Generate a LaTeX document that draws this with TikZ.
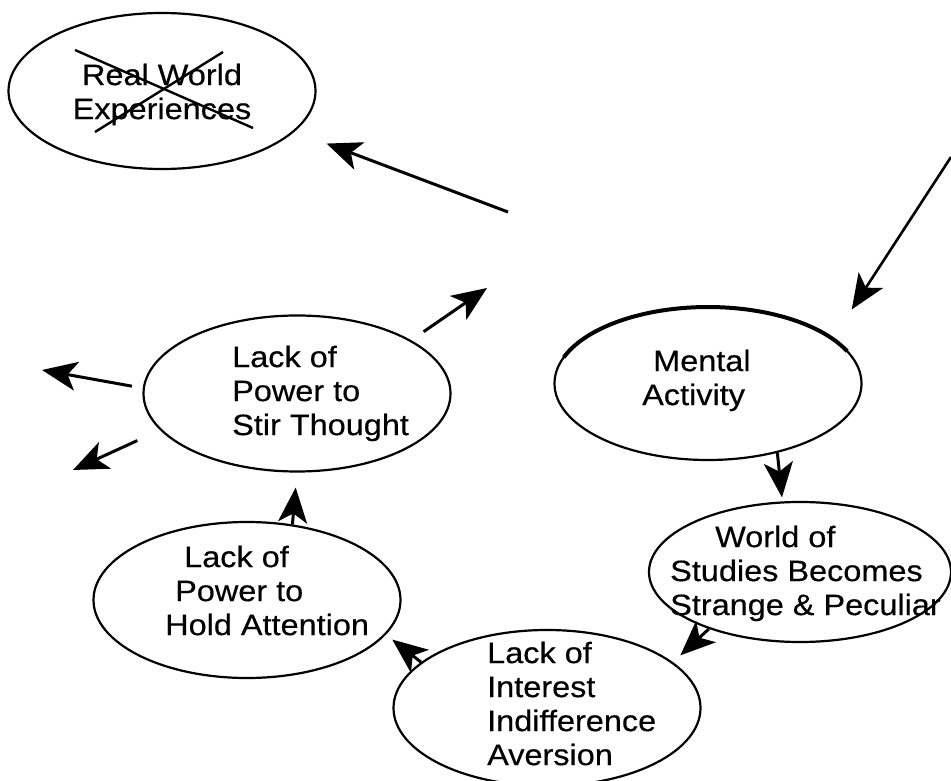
\documentclass[tikz,border=0pt]{standalone}
\usepackage{fontspec}
\newfontfamily\diag[FakeStretch=1.1,FakeBold=0.4]{Liberation Sans}
\usetikzlibrary{arrows.meta,shapes.geometric}
\begin{document}
\begin{tikzpicture}[x=1pt,y=-1pt,
  oval/.style={ellipse, draw, line width=2.2pt, minimum width=307pt, minimum height=156pt, inner sep=0pt},
  txt/.style={font={\diag\fontsize{29.5}{34}\selectfont}, inner sep=0pt, align=left, anchor=north west},
  arr/.style={line width=3pt, -{Stealth[length=35pt,width=29pt,inset=9pt]}},
  cross/.style={line width=2.4pt}
]
\useasboundingbox (0,0) rectangle (951,781);
\fill[white] (0,0) rectangle (951,781);

% ellipses
\node[oval] (re) at (162,91) {};
\node[oval] (st) at (297,393.5) {};
\node[oval, minimum height=153pt] (ma) at (708,383.5) {};
\node[oval, minimum width=302pt, minimum height=140pt] (ws) at (800,572) {};
\node[oval] (hb) at (247,600) {};
\node[oval] (ia) at (547,708) {};

% thick top of Mental Activity
\draw[line width=4pt] plot[domain=25:160, samples=60] ({708+153.5*cos(\x)},{383.5-76.5*sin(\x)});

% texts
\node[txt, align=center, anchor=north] (ret) at (162,63.5) {Real World\\Experiences};
\node[txt] (stt) at (232,345.5) {Lack of\\Power to\\Stir Thought};
\node[txt] (mat) at (642,349.5) {\hspace*{11pt}Mental\\Activity};
\node[txt] (wst) at (670,525.5) {\hspace*{45pt}World of\\Studies Becomes\\Strange \& Peculiar};
\node[txt] (hbt) at (165,545.5) {\hspace*{19pt}Lack of\\\hspace*{10pt}Power to\\Hold Attention};
\node[txt] (iat) at (487,641.5) {Lack of\\Interest\\Indifference\\Aversion};

% cross over Real World Experiences
\draw[cross] (75,50) -- (253,128);
\draw[cross] (95,132) -- (223,52);

% free ends
\coordinate (a0) at (508,212);
\coordinate (b0) at (951,157);
\coordinate (c1) at (42,370);
\coordinate (d1) at (73,470);
\coordinate (e1) at (487,288);

% connectors
\draw[arr, shorten >=34pt] (a0) -- (re.-17);
\draw[arr, line width=2.6pt, shorten >=34pt] (b0) -- (ma.20);
\draw[arr, shorten <=11pt] (st.178) -- (c1);
\draw[arr, shorten <=25pt] (st.195) -- (d1);
\draw[arr, shorten <=15pt] (st.25) -- (e1);
\draw[arr, shorten >=15pt] (hb.59) -- (st.south);
\draw[arr, shorten >=8pt] (ia.160) -- (hb.-14);
\draw[arr, shorten >=10pt] (ws.212) -- (ia.20);
\draw[arr, shorten >=4pt] (ma.-45) -- (ws.104);
\end{tikzpicture}
\end{document}
